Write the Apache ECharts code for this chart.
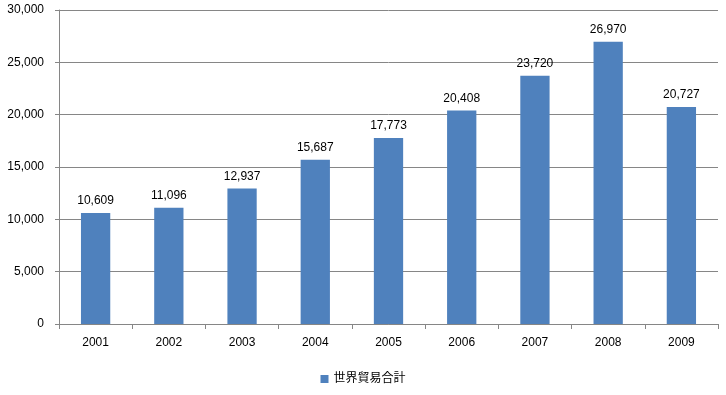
<!DOCTYPE html>
<html><head><meta charset="utf-8">
<script src="https://cdn.jsdelivr.net/npm/echarts@6/dist/echarts.min.js"></script>
<style>html,body{margin:0;padding:0;background:#fff}#c{width:726px;height:395px}</style>
</head><body><div id="c"></div>
<script>
const categories = ['2001','2002','2003','2004','2005','2006','2007','2008','2009'];
const seriesName = '世界貿易合計';
const values = [10609, 11096, 12937, 15687, 17773, 20408, 23720, 26970, 20727];

const chart = echarts.init(document.getElementById('c'));
const font = 'Liberation Sans, Arial, "Noto Sans CJK JP", sans-serif';
chart.setOption({
  animation: false,
  textStyle: { fontFamily: font },
  grid: { left: 59, right: 8, top: 10, bottom: 71, containLabel: false },
  legend: {
    bottom: 5, left: 'center',
    itemWidth: 8, itemHeight: 8, itemGap: 6,
    icon: 'rect',
    textStyle: { fontFamily: font, fontSize: 12, color: '#000' },
    data: [seriesName]
  },
  xAxis: {
    type: 'category', data: categories,
    axisLine: { lineStyle: { color: '#868686' } },
    axisTick: { show: true, alignWithLabel: false, length: 5, lineStyle: { color: '#868686' } },
    axisLabel: { color: '#000', fontSize: 12, margin: 13, fontFamily: font }
  },
  yAxis: {
    type: 'value', min: 0, max: 30000, interval: 5000,
    axisLine: { show: true, lineStyle: { color: '#868686' } },
    axisTick: { show: true, length: 4, lineStyle: { color: '#868686' } },
    splitLine: { lineStyle: { color: '#868686' } },
    axisLabel: { color: '#000', fontSize: 12, margin: 15, fontFamily: font,
      formatter: v => v.toLocaleString('en-US') }
  },
  series: [{
    name: seriesName, type: 'bar', data: values,
    barWidth: '40%',
    itemStyle: { color: '#4F81BD' },
    label: { show: true, position: 'top', distance: 6, color: '#000', fontSize: 12, fontFamily: font,
      formatter: p => p.value.toLocaleString('en-US') }
  }]
});
</script></body></html>
